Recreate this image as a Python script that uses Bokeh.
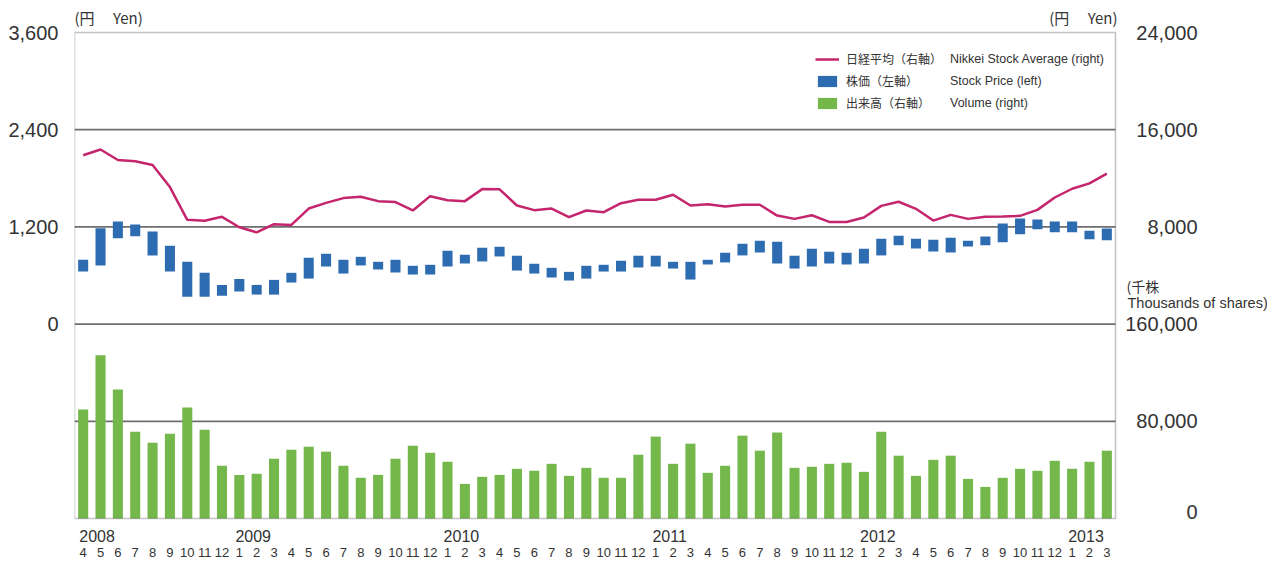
from bokeh.plotting import figure
from bokeh.models import (Range1d, LinearAxis, FixedTicker, Legend, LegendItem, Label,
                          NumeralTickFormatter, ColumnDataSource, BoxAnnotation)
from bokeh.embed import file_html
from bokeh.resources import INLINE

# ---------------- data (Apr 2008 - Mar 2013, month-end) ----------------
months = ["4", "5", "6", "7", "8", "9", "10", "11", "12",
          "1", "2", "3", "4", "5", "6", "7", "8", "9", "10", "11", "12",
          "1", "2", "3", "4", "5", "6", "7", "8", "9", "10", "11", "12",
          "1", "2", "3", "4", "5", "6", "7", "8", "9", "10", "11", "12",
          "1", "2", "3", "4", "5", "6", "7", "8", "9", "10", "11", "12",
          "1", "2", "3"]
years = ["2008", "2009", "2010", "2011", "2012", "2013"]
year_start_idx = [0, 9, 21, 33, 45, 57]

nikkei = [13900, 14370, 13510, 13400, 13100, 11280, 8580, 8500, 8830, 7970,
          7550, 8220, 8160, 9510, 9980, 10370, 10480, 10120, 10040, 9350,
          10530, 10200, 10120, 11110, 11090, 9760, 9380, 9510, 8800, 9350,
          9210, 9950, 10230, 10230, 10650, 9760, 9870, 9680, 9820, 9820,
          8930, 8660, 8960, 8410, 8410, 8770, 9730, 10070, 9490, 8520,
          8990, 8660, 8830, 8850, 8910, 9400, 10420, 11140, 11580, 12380]

price_high = [794, 1183, 1266, 1229, 1142, 968, 769, 633, 484, 558,
              484, 546, 633, 819, 869, 794, 831, 769, 794, 720,
              732, 906, 856, 943, 956, 844, 745, 695, 645, 720,
              732, 782, 844, 844, 769, 769, 794, 881, 993, 1030,
              1018, 844, 931, 893, 881, 931, 1055, 1092, 1055, 1042,
              1067, 1030, 1080, 1241, 1303, 1291, 1266, 1266, 1154, 1179]
price_low = [649, 724, 1059, 1084, 848, 649, 339, 339, 351, 401,
             364, 364, 513, 562, 711, 624, 724, 674, 637, 612,
             612, 711, 748, 773, 835, 661, 624, 575, 538, 562,
             649, 649, 699, 711, 686, 550, 736, 761, 848, 885,
             748, 686, 711, 748, 736, 748, 848, 972, 934, 897,
             885, 959, 972, 1009, 1108, 1170, 1133, 1133, 1046, 1034]

volume = [89700, 134300, 106200, 71500, 62400, 69800, 91300, 73100, 43400, 35900,
          36800, 49200, 56600, 59100, 55000, 43400, 33500, 35900, 49200, 59900,
          54100, 46700, 28500, 34300, 35900, 40900, 39300, 45000, 35100, 41700,
          33500, 33500, 52500, 67400, 45000, 61600, 37600, 43400, 68200, 55800,
          70700, 41700, 42600, 45000, 45900, 38400, 71500, 51700, 35100, 48300,
          51700, 32600, 26000, 33500, 40900, 39300, 47500, 40900, 46700, 55800]

price_ticks = [0, 1200, 2400, 3600]
nikkei_ticks = [8000, 16000, 24000]
volume_ticks = [0, 80000, 160000]
grid_levels = [-1200, 0, 1200, 2400]

# ---------------- styling / geometry ----------------
TXT = "#333333"
NUMFONT = "Liberation Sans"
JPFONT = "Noto Sans CJK JP"
C_LINE = "#C4256C"
C_BLUE = "#2E6CB2"
C_GREEN = "#74B74B"
GRID = "#6e6e6e"
BOX = "#3a3a3a"

W, H = 1267, 561
LEFT_BORDER, BOTTOM_BORDER = 74, 41
FRAME_W, FRAME_H = W - LEFT_BORDER, H - BOTTOM_BORDER
PLOT_W = 1041                      # width of the drawn chart box
TOP_PAD, BOTTOM_PAD = 32, 2        # space above/below the chart box inside the frame
PITCH = (FRAME_H - TOP_PAD - BOTTOM_PAD) / 5.0
n = len(months)
month_px = PLOT_W / n

x0, x1 = -0.5, n - 0.5
x_end = x0 + FRAME_W / month_px


def rng(step, lo_steps, hi_steps):
    return Range1d(lo_steps * step - BOTTOM_PAD / PITCH * step,
                   hi_steps * step + TOP_PAD / PITCH * step)


idx = list(range(n))
src = ColumnDataSource(dict(x=idx, nikkei=nikkei, hi=price_high, lo=price_low, vol=volume))

p = figure(width=W, height=H, output_backend="svg", toolbar_location=None,
           x_range=Range1d(x0, x_end), y_range=rng(1200, -2, 3),
           x_axis_type=None, y_axis_type=None,
           min_border_left=LEFT_BORDER, min_border_right=0, min_border_top=0,
           min_border_bottom=BOTTOM_BORDER,
           background_fill_color="white", border_fill_color="white",
           outline_line_color=None)
p.extra_y_ranges = {"nikkei": rng(8000, -2, 3), "vol": rng(80000, 0, 5)}

# horizontal grid lines limited to the chart box
gsrc = ColumnDataSource(dict(y=grid_levels, x0=[x0] * len(grid_levels), x1=[x1] * len(grid_levels)))
p.segment(x0="x0", x1="x1", y0="y", y1="y", source=gsrc, line_color=GRID, line_width=1.8)

# left axis (stock price)
ax_l = LinearAxis(ticker=FixedTicker(ticks=price_ticks),
                  formatter=NumeralTickFormatter(format="0,0"),
                  axis_line_color=None, major_tick_line_color=None, minor_tick_line_color=None,
                  major_label_text_font=NUMFONT, major_label_text_font_size="20px",
                  major_label_text_color=TXT, major_label_standoff=10)
p.add_layout(ax_l, "left")

# bottom axes: years then months
yr_ticks = [i + 0.8 for i in year_start_idx]
ax_y = LinearAxis(ticker=FixedTicker(ticks=yr_ticks),
                  major_label_overrides={t: y for t, y in zip(yr_ticks, years)},
                  axis_line_color=None, major_tick_line_color=None, minor_tick_line_color=None,
                  major_label_text_font=NUMFONT, major_label_text_font_size="16px",
                  major_label_text_color=TXT, major_label_standoff=3)
p.add_layout(ax_y, "below")
ax_m = LinearAxis(ticker=FixedTicker(ticks=idx),
                  major_label_overrides={i: m for i, m in zip(idx, months)},
                  axis_line_color=None, major_tick_line_color=None, minor_tick_line_color=None,
                  major_label_text_font=NUMFONT, major_label_text_font_size="13px",
                  major_label_text_color=TXT, major_label_standoff=-3)
p.add_layout(ax_m, "below")

# glyphs
r_vol = p.vbar(x="x", top="vol", bottom=0, width=0.58, source=src, y_range_name="vol",
               fill_color=C_GREEN, line_color=None)
r_price = p.vbar(x="x", top="hi", bottom="lo", width=0.58, source=src,
                 fill_color=C_BLUE, line_color=None)
r_line = p.line(x="x", y="nikkei", source=src, y_range_name="nikkei",
                line_color=C_LINE, line_width=2.5)

# chart box
p.add_layout(BoxAnnotation(left=x0, right=x1, bottom=-2400, top=3600,
                           fill_alpha=0, fill_color=None,
                           line_color=BOX, line_width=1.6))

# right-hand scale labels (Nikkei upper part, volume lower part)
for v in nikkei_ticks:
    p.add_layout(Label(x=x1, y=v, y_range_name="nikkei", x_offset=82, text=f"{v:,}",
                       text_align="right", text_baseline="middle",
                       text_font=NUMFONT, text_font_size="20px", text_color=TXT))
for v in volume_ticks:
    at_bottom = (v == volume_ticks[0])
    p.add_layout(Label(x=x1, y=v, y_range_name="vol", x_offset=82,
                       y_offset=7 if at_bottom else 0, text=f"{v:,}",
                       text_align="right", text_baseline="middle",
                       text_font=NUMFONT, text_font_size="20px", text_color=TXT))

# legends (Japanese with swatches, English text column)
leg_h = 3 * 17 + 2 * 5
leg_y = FRAME_H - 50 - leg_h
leg_common = dict(padding=0, margin=0, spacing=5, label_height=17, glyph_height=14,
                  background_fill_alpha=0, border_line_color=None,
                  label_text_color=TXT)
leg_jp = Legend(items=[LegendItem(label="日経平均（右軸）", renderers=[r_line]),
                       LegendItem(label="株価（左軸）", renderers=[r_price]),
                       LegendItem(label="出来高（右軸）", renderers=[r_vol])],
                location=(741, leg_y), glyph_width=24, label_standoff=7,
                label_text_font=JPFONT, label_text_font_size="12px", **leg_common)
leg_en = Legend(items=[LegendItem(label="Nikkei Stock Average (right)", renderers=[r_line]),
                       LegendItem(label="Stock Price (left)", renderers=[r_price]),
                       LegendItem(label="Volume (right)", renderers=[r_vol])],
                location=(876, leg_y), glyph_width=0, label_standoff=0,
                label_text_font=NUMFONT, label_text_font_size="12.5px", **leg_common)
p.add_layout(leg_jp)
p.add_layout(leg_en)

# unit captions
p.add_layout(Label(x=x0, y=3600, y_offset=15, text="(円　 Yen)", text_baseline="middle",
                   text_align="left", text_font=JPFONT, text_font_size="15px", text_color=TXT))
p.add_layout(Label(x=x1, y=3600, y_offset=15, x_offset=2, text="(円　 Yen)", text_baseline="middle",
                   text_align="right", text_font=JPFONT, text_font_size="15px", text_color=TXT))
p.add_layout(Label(x=x1, x_offset=11, y=0, y_offset=38, text="(千株", text_baseline="middle",
                   text_align="left", text_font=JPFONT, text_font_size="14px", text_color=TXT))
p.add_layout(Label(x=x1, x_offset=12, y=0, y_offset=21, text="Thousands of shares)",
                   text_baseline="middle", text_align="left",
                   text_font=NUMFONT, text_font_size="14.5px", text_color=TXT))

open("out.html", "w").write(file_html(p, INLINE))
